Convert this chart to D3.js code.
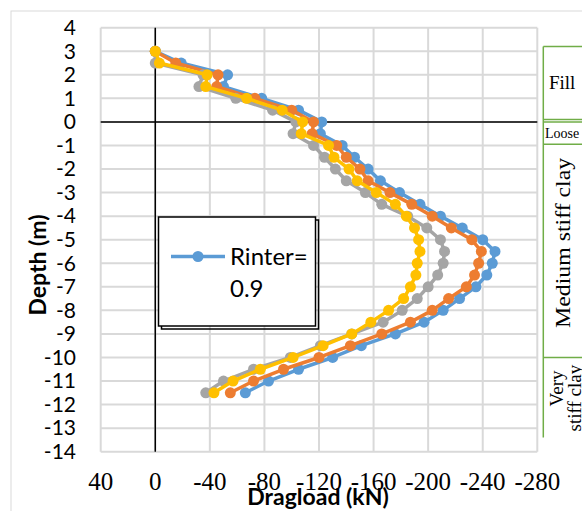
<!DOCTYPE html>
<html><head><meta charset="utf-8">
<script src="https://cdn.jsdelivr.net/npm/d3@7/dist/d3.min.js"></script>
<style>body{margin:0;background:#fff}svg{display:block}</style>
</head><body>
<script>
// ---- data ----
const depths = [3, 2.5, 2, 1.5, 1, 0.5, 0, -0.5, -1, -1.5, -2, -2.5, -3, -3.5, -4, -4.5, -5, -5.5, -6, -6.5, -7, -7.5, -8, -8.5, -9, -9.5, -10, -10.5, -11, -11.5];
const rinter09 = [0, -19, -53, -50, -78, -105, -122, -121, -137, -146, -156, -165, -179, -194, -209, -225, -240, -249, -247, -243, -235, -223, -211, -197, -176, -151, -130, -105, -83, -66];
const seriesOrange = [0, -15, -46, -45, -73, -100, -116, -115, -133, -140, -150, -156, -172, -188, -203, -217, -232, -239, -237, -234, -228, -215, -203, -187, -166, -143, -120, -94, -72, -55];
const seriesGray = [0, 0, -35, -32, -59, -86, -103, -101, -116, -124, -132, -140, -154, -166, -185, -199, -209, -212, -211, -207, -200, -192, -181, -167, -144, -121, -99, -72, -50, -37];
const seriesYellow = [0, -3, -38, -37, -67, -93, -108, -107, -127, -131, -142, -148, -162, -176, -184, -190, -193, -194, -192, -191, -187, -182, -171, -158, -144, -123, -101, -77, -57, -43];
const seriesColors = ["#5B9BD5", "#ED7D31", "#A5A5A5", "#FFC000"];
const xTicks = [40, 0, -40, -80, -120, -160, -200, -240, -280];
const yTicks = [4, 3, 2, 1, 0, -1, -2, -3, -4, -5, -6, -7, -8, -9, -10, -11, -12, -13, -14];
const legendLines = ["Rinter=", "0.9"];
const layerNames = ["Fill", "Loose", "Medium stiff clay", ["Very", "stiff clay"]];
const layerTops = [3.2, 0, -0.95, -10];
const layerBottoms = [0.1, -0.95, -10, -13.4];

// ---- chart ----
const W = 582, H = 511;
const svg = d3.select("body").append("svg").attr("width", W).attr("height", H);
const x = d3.scaleLinear().domain([40, -280]).range([100.7, 537.3]);
const y = d3.scaleLinear().domain([4, -14]).range([27.7, 451.7]);

// outer chart frame
svg.append("rect").attr("x", 11).attr("y", 11).attr("width", 700).attr("height", 700)
  .attr("fill", "none").attr("stroke", "#D9D9D9").attr("stroke-width", 1);

// gridlines
svg.append("g").selectAll("line").data(yTicks).join("line")
  .attr("x1", x(40)).attr("x2", x(-280)).attr("y1", d => y(d)).attr("y2", d => y(d))
  .attr("stroke", "#D9D9D9").attr("stroke-width", 2);
svg.append("g").selectAll("line").data(xTicks).join("line")
  .attr("y1", y(4)).attr("y2", y(-14)).attr("x1", d => x(d)).attr("x2", d => x(d))
  .attr("stroke", "#D9D9D9").attr("stroke-width", 2);

// zero axes
svg.append("line").attr("x1", x(40)).attr("x2", x(-280)).attr("y1", y(0)).attr("y2", y(0))
  .attr("stroke", "#000").attr("stroke-width", 1.5);
svg.append("line").attr("x1", x(0)).attr("x2", x(0)).attr("y1", y(4)).attr("y2", y(-14))
  .attr("stroke", "#000").attr("stroke-width", 1.5);

// y tick labels
svg.append("g").selectAll("text").data(yTicks).join("text")
  .attr("x", 76).attr("y", d => y(d)).attr("dy", "0.35em")
  .attr("text-anchor", "end").attr("font-family", "Lato, 'Open Sans', sans-serif")
  .attr("font-size", 21).attr("fill", "#000").text(d => d);

// x tick labels
svg.append("g").selectAll("text").data(xTicks).join("text")
  .attr("x", d => x(d)).attr("y", 490)
  .attr("text-anchor", "middle").attr("font-family", "'Liberation Serif', serif")
  .attr("font-size", 25).attr("fill", "#000").text(d => d);

// axis titles
svg.append("text").attr("x", 318).attr("y", 505).attr("text-anchor", "middle")
  .attr("font-family", "Lato, 'Open Sans', sans-serif").attr("font-weight", "bold")
  .attr("font-size", 23).attr("fill", "#000").text("Dragload (kN)");
svg.append("text").attr("transform", "translate(46,265) rotate(-90)").attr("text-anchor", "middle")
  .attr("font-family", "Lato, 'Open Sans', sans-serif").attr("font-weight", "bold")
  .attr("font-size", 23).attr("fill", "#000").text("Depth (m)");

// series
const allSeries = [rinter09, seriesOrange, seriesGray, seriesYellow];
const line = d3.line().x(d => x(d[0])).y(d => y(d[1]));
allSeries.forEach((vals, i) => {
  const pts = vals.map((v, j) => [v, depths[j]]);
  const g = svg.append("g");
  g.append("path").datum(pts).attr("d", line).attr("fill", "none")
    .attr("stroke", seriesColors[i]).attr("stroke-width", 3.5).attr("stroke-linejoin", "round");
  g.selectAll("circle").data(pts).join("circle")
    .attr("cx", d => x(d[0])).attr("cy", d => y(d[1])).attr("r", 5.5)
    .attr("fill", seriesColors[i]);
});

// legend (with shadow)
const lg = svg.append("g");
lg.append("rect").attr("x", 161.5).attr("y", 220).attr("width", 157).attr("height", 109)
  .attr("fill", "none").attr("stroke", "#000").attr("stroke-width", 1.5);
lg.append("rect").attr("x", 158.5).attr("y", 217).attr("width", 157).attr("height", 109)
  .attr("fill", "#fff").attr("stroke", "#000").attr("stroke-width", 1.5);
lg.append("line").attr("x1", 171).attr("x2", 225).attr("y1", 256.5).attr("y2", 256.5)
  .attr("stroke", seriesColors[0]).attr("stroke-width", 3.5);
lg.append("circle").attr("cx", 198).attr("cy", 256.5).attr("r", 5.5).attr("fill", seriesColors[0]);
lg.selectAll("text").data(legendLines).join("text")
  .attr("x", 230).attr("y", (d, i) => 265 + i * 32)
  .attr("font-family", "Lato, 'Open Sans', sans-serif").attr("font-size", 24)
  .attr("fill", "#000").text(d => d);

// soil layer column
const green = "#70AD47";
const colX = 543.3;
const sg = svg.append("g");
sg.append("line").attr("x1", colX).attr("x2", colX).attr("y1", y(layerTops[0])).attr("y2", y(layerBottoms[3]))
  .attr("stroke", green).attr("stroke-width", 1.5);
const bounds = [layerTops[0], layerBottoms[0], layerTops[1], layerTops[2], layerTops[3]];
sg.selectAll("line.b").data(bounds).join("line").attr("class", "b")
  .attr("x1", colX).attr("x2", W).attr("y1", d => y(d)).attr("y2", d => y(d))
  .attr("stroke", green).attr("stroke-width", 1.5);
const serif = "'Liberation Serif', serif";
// Fill
sg.append("text").attr("x", 549).attr("y", (y(layerTops[0]) + y(layerBottoms[0])) / 2 + 6)
  .attr("font-family", serif).attr("font-size", 19).attr("fill", "#000").text(layerNames[0]);
// Loose
sg.append("text").attr("x", 545).attr("y", (y(layerTops[1]) + y(layerBottoms[1])) / 2 + 5)
  .attr("font-family", serif).attr("font-size", 14).attr("fill", "#000").text(layerNames[1]);
// Medium stiff clay
const mMid = (y(layerTops[2]) + y(layerBottoms[2])) / 2 - 8;
sg.append("text").attr("transform", `translate(570,${mMid}) rotate(-90)`)
  .attr("text-anchor", "middle").attr("font-family", serif).attr("font-size", 22)
  .attr("textLength", 170).attr("lengthAdjust", "spacingAndGlyphs")
  .attr("fill", "#000").text(layerNames[2]);
// Very stiff clay
sg.append("text").attr("transform", `translate(563,${y(layerTops[3]) + 31}) rotate(-90)`)
  .attr("text-anchor", "middle").attr("font-family", serif).attr("font-size", 19)
  .attr("fill", "#000").text(layerNames[3][0]);
sg.append("text").attr("transform", `translate(581,${y(layerTops[3]) + 74}) rotate(-90)`)
  .attr("text-anchor", "start").attr("font-family", serif).attr("font-size", 19)
  .attr("fill", "#000").text(layerNames[3][1]);
</script>
</body></html>
